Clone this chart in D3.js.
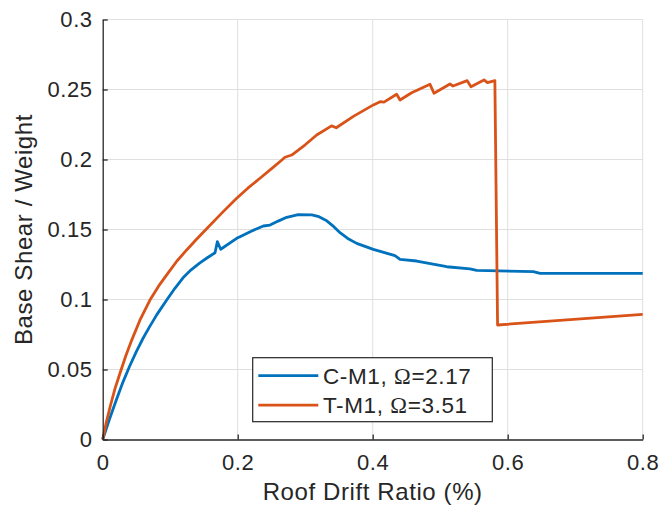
<!DOCTYPE html>
<html>
<head>
<meta charset="utf-8">
<script src="https://cdn.jsdelivr.net/npm/d3@7"></script>
<style>
  html, body { margin: 0; padding: 0; background: #fff; }
  svg { display: block; }
  text { font-family: "Liberation Sans", Arial, Helvetica, sans-serif; fill: #262626; }
</style>
</head>
<body>
<svg id="chart" width="662" height="509"></svg>
<script>
// Pushover curves: base shear / weight vs. roof drift ratio (%)
const seriesLabels = ["C-M1, ", "T-M1, "];
const seriesOmega = ["2.17", "3.51"];
const seriesColors = ["#0072BD", "#D95319"];

const driftCM1 = [0, 0.01, 0.02, 0.03, 0.04, 0.05, 0.06, 0.07, 0.08, 0.0948, 0.107, 0.119, 0.131, 0.144, 0.155, 0.1664, 0.1698, 0.1748, 0.1985, 0.2034, 0.22, 0.238, 0.2479, 0.26, 0.2726, 0.2898, 0.3096, 0.319, 0.3319, 0.342, 0.3516, 0.363, 0.3763, 0.4009, 0.433, 0.4405, 0.4652, 0.5096, 0.5441, 0.554, 0.638, 0.648, 0.697, 0.8];
const shearCM1 = [0, 0.0145, 0.028, 0.041, 0.0525, 0.063, 0.0725, 0.081, 0.089, 0.0996, 0.108, 0.1155, 0.1212, 0.1262, 0.1298, 0.1334, 0.1413, 0.1359, 0.1437, 0.1449, 0.1488, 0.1525, 0.1532, 0.156, 0.1587, 0.1606, 0.1604, 0.1594, 0.1562, 0.1522, 0.1477, 0.1436, 0.1401, 0.1358, 0.1313, 0.1287, 0.1275, 0.1234, 0.1218, 0.1208, 0.1199, 0.1187, 0.1187, 0.1187];

const driftTM1 = [0, 0.005, 0.011, 0.018, 0.0256, 0.034, 0.043, 0.0553, 0.070, 0.083, 0.097, 0.110, 0.1244, 0.139, 0.154, 0.176, 0.1985, 0.215, 0.233, 0.252, 0.265, 0.270, 0.280, 0.300, 0.317, 0.339, 0.346, 0.372, 0.401, 0.411, 0.4167, 0.4355, 0.4405, 0.4577, 0.4849, 0.4908, 0.5145, 0.519, 0.540, 0.5456, 0.5649, 0.570, 0.581, 0.585, 0.8];
const shearTM1 = [0, 0.0115, 0.0234, 0.036, 0.0473, 0.0595, 0.071, 0.0854, 0.0996, 0.1097, 0.119, 0.1275, 0.1354, 0.143, 0.1505, 0.1615, 0.1723, 0.1795, 0.1866, 0.1942, 0.1995, 0.2016, 0.2032, 0.2105, 0.2175, 0.224, 0.2227, 0.231, 0.239, 0.2413, 0.241, 0.2466, 0.2425, 0.2477, 0.2537, 0.2473, 0.2539, 0.2525, 0.2563, 0.252, 0.2568, 0.2549, 0.2563, 0.0818, 0.0894];

const xTicks = [0, 0.2, 0.4, 0.6, 0.8];
const xTickLabels = ["0", "0.2", "0.4", "0.6", "0.8"];
const yTicks = [0, 0.05, 0.1, 0.15, 0.2, 0.25, 0.3];
const yTickLabels = ["0", "0.05", "0.1", "0.15", "0.2", "0.25", "0.3"];

const xLabel = "Roof Drift Ratio (%)";
const yLabel = "Base Shear / Weight";

const series = [
  { label: seriesLabels[0], omega: seriesOmega[0], color: seriesColors[0], pts: d3.zip(driftCM1, shearCM1) },
  { label: seriesLabels[1], omega: seriesOmega[1], color: seriesColors[1], pts: d3.zip(driftTM1, shearTM1) }
];

const svg = d3.select("#chart");
const margin = { left: 102.7, right: 19.3, top: 19.5, bottom: 69.5 };
const W = 662, H = 509;

const x = d3.scaleLinear().domain([0, 0.8]).range([margin.left, W - margin.right]);
const y = d3.scaleLinear().domain([0, 0.3]).range([H - margin.bottom, margin.top]);

// grid
const grid = svg.append("g").attr("stroke", "#dfdfdf").attr("stroke-width", 1);
grid.selectAll(".gx").data(xTicks.slice(1)).join("line")
  .attr("x1", d => x(d)).attr("x2", d => x(d))
  .attr("y1", y(0)).attr("y2", y(0.3));
grid.selectAll(".gy").data(yTicks.slice(1)).join("line")
  .attr("x1", x(0)).attr("x2", x(0.8))
  .attr("y1", d => y(d)).attr("y2", d => y(d));

// curves
const line = d3.line().x(d => x(d[0])).y(d => y(d[1]));
svg.append("g").selectAll("path").data(series).join("path")
  .attr("d", d => line(d.pts))
  .attr("fill", "none")
  .attr("stroke", d => d.color)
  .attr("stroke-width", 2.8)
  .attr("stroke-linejoin", "round");

// axes (ticks pointing inward)
const xAxis = d3.axisBottom(x).tickValues(xTicks).tickFormat((d, i) => xTickLabels[i])
  .tickSizeInner(-5).tickSizeOuter(0).tickPadding(15);
const yAxis = d3.axisLeft(y).tickValues(yTicks).tickFormat((d, i) => yTickLabels[i])
  .tickSizeInner(-5).tickSizeOuter(0).tickPadding(10);

const gx = svg.append("g").attr("transform", `translate(0,${y(0)})`).call(xAxis);
const gy = svg.append("g").attr("transform", `translate(${x(0)},0)`).call(yAxis);
[gx, gy].forEach(g => {
  g.select(".domain").attr("stroke", "#262626").attr("stroke-width", 1.3);
  g.selectAll(".tick line").attr("stroke", "#262626").attr("stroke-width", 1.3);
  g.selectAll(".tick text").attr("fill", "#262626")
    .style("font-family", '"Liberation Sans", Arial, sans-serif')
    .style("font-size", "22px").style("letter-spacing", "0.6px");
});
gx.selectAll(".tick text").attr("dy", "0.71em");

// axis labels
svg.append("text").attr("x", x(0.4)).attr("y", 500)
  .attr("text-anchor", "middle").style("font-size", "24px").style("letter-spacing", "0.6px").text(xLabel);
svg.append("text")
  .attr("transform", `translate(32,${(y(0) + y(0.3)) / 2}) rotate(-90)`)
  .attr("text-anchor", "middle").style("font-size", "24px").style("letter-spacing", "0.6px").text(yLabel);

// legend
const lg = svg.append("g").attr("transform", "translate(252.7,357.7)");
lg.append("rect").attr("width", 239.6).attr("height", 64)
  .attr("fill", "#fff").attr("stroke", "#262626").attr("stroke-width", 1.2);
const rows = lg.selectAll("g.row").data(series).join("g")
  .attr("transform", (d, i) => `translate(0,${18 + i * 29.5})`);
rows.append("line").attr("x1", 5.6).attr("x2", 65.6).attr("y1", 0).attr("y2", 0)
  .attr("stroke", d => d.color).attr("stroke-width", 2.8);
const lt = rows.append("text").attr("x", 70.3).attr("y", 0).attr("dy", "0.36em")
  .style("font-size", "22.5px").style("letter-spacing", "0.6px");
lt.append("tspan").text(d => d.label);
lt.append("tspan").style("font-family", '"Liberation Serif", "Times New Roman", serif').text("\u03A9");
lt.append("tspan").text(d => "=" + d.omega);
</script>
</body>
</html>
